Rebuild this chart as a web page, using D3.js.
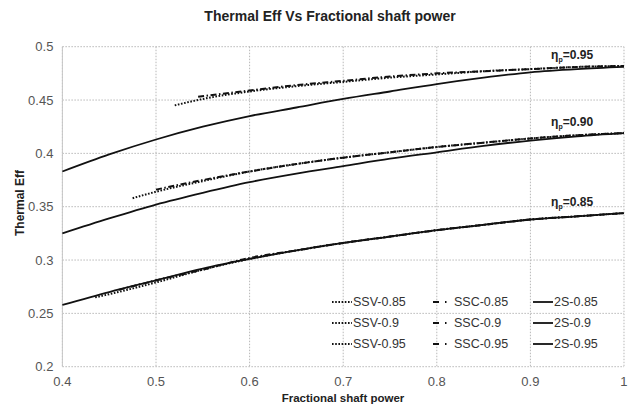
<!DOCTYPE html>
<html>
<head>
<meta charset="utf-8">
<script src="https://cdn.jsdelivr.net/npm/d3@7"></script>
<style>
  body { margin: 0; background: #fff; }
  svg { font-family: "Liberation Sans", Arial, sans-serif; }
  .grid line { stroke: #b8b8b8; stroke-width: 1; stroke-dasharray: 1.5,1.5; }
  .tick-label { font-size: 13px; fill: #555; }
  .series { fill: none; stroke: #111; }
</style>
</head>
<body>
<svg id="chart" width="635" height="407"></svg>
<script>
// Tick values
var xTicks = [0.4, 0.5, 0.6, 0.7, 0.8, 0.9, 1];
var yTicks = [0.2, 0.25, 0.3, 0.35, 0.4, 0.45, 0.5];

// Two-stage (2S) curves
var x2S = [0.4, 0.45, 0.5, 0.55, 0.6, 0.65, 0.7, 0.75, 0.8, 0.85, 0.9, 0.95, 1.0];
var y2S_085 = [0.258, 0.270, 0.281, 0.292, 0.301, 0.309, 0.316, 0.322, 0.328, 0.333, 0.338, 0.341, 0.344];
var y2S_090 = [0.325, 0.339, 0.352, 0.363, 0.373, 0.381, 0.388, 0.395, 0.401, 0.407, 0.412, 0.416, 0.419];
var y2S_095 = [0.383, 0.399, 0.413, 0.425, 0.435, 0.443, 0.451, 0.458, 0.465, 0.471, 0.476, 0.479, 0.481];

// SSV curves
var xSSV_085 = [0.435, 0.45, 0.5, 0.55, 0.6, 0.65, 0.7, 0.75, 0.8, 0.85, 0.9, 0.95, 1.0];
var ySSV_085 = [0.265, 0.268, 0.279, 0.291, 0.301, 0.309, 0.316, 0.322, 0.328, 0.333, 0.338, 0.341, 0.344];
var xSSV_090 = [0.475, 0.5, 0.55, 0.6, 0.65, 0.7, 0.75, 0.8, 0.85, 0.9, 0.95, 1.0];
var ySSV_090 = [0.358, 0.364, 0.374, 0.383, 0.390, 0.396, 0.401, 0.406, 0.410, 0.414, 0.417, 0.419];
var xSSV_095 = [0.52, 0.55, 0.6, 0.65, 0.7, 0.75, 0.8, 0.85, 0.9, 0.95, 1.0];
var ySSV_095 = [0.445, 0.451, 0.458, 0.463, 0.467, 0.471, 0.474, 0.477, 0.479, 0.481, 0.482];

// SSC curves
var xSSC_085 = [0.46, 0.5, 0.55, 0.6, 0.65, 0.7, 0.75, 0.8, 0.85, 0.9, 0.95, 1.0];
var ySSC_085 = [0.272, 0.281, 0.291, 0.302, 0.309, 0.316, 0.322, 0.328, 0.333, 0.338, 0.341, 0.344];
var xSSC_090 = [0.5, 0.55, 0.6, 0.65, 0.7, 0.75, 0.8, 0.85, 0.9, 0.95, 1.0];
var ySSC_090 = [0.366, 0.375, 0.383, 0.390, 0.396, 0.401, 0.406, 0.410, 0.414, 0.417, 0.419];
var xSSC_095 = [0.545, 0.6, 0.65, 0.7, 0.75, 0.8, 0.85, 0.9, 0.95, 1.0];
var ySSC_095 = [0.453, 0.459, 0.464, 0.468, 0.472, 0.475, 0.477, 0.479, 0.481, 0.482];

// Curve labels (eta_p)
var etaLabels = [{ v: "0.95", y: 0.4885 }, { v: "0.90", y: 0.426 }, { v: "0.85", y: 0.351 }];

var dash = { SSV: "1.6,1.6", SSC: "6,2.5,1.5,2.5", "2S": null };
var widths = { SSV: 2, SSC: 2, "2S": 1.8 };

var series = [
    { name: "SSV-0.85", kind: "SSV", xs: xSSV_085, ys: ySSV_085 },
    { name: "SSC-0.85", kind: "SSC", xs: xSSC_085, ys: ySSC_085 },
    { name: "2S-0.85", kind: "2S", xs: x2S, ys: y2S_085 },
    { name: "SSV-0.9", kind: "SSV", xs: xSSV_090, ys: ySSV_090 },
    { name: "SSC-0.9", kind: "SSC", xs: xSSC_090, ys: ySSC_090 },
    { name: "2S-0.9", kind: "2S", xs: x2S, ys: y2S_090 },
    { name: "SSV-0.95", kind: "SSV", xs: xSSV_095, ys: ySSV_095 },
    { name: "SSC-0.95", kind: "SSC", xs: xSSC_095, ys: ySSC_095 },
    { name: "2S-0.95", kind: "2S", xs: x2S, ys: y2S_095 }
];

var margin = { top: 46.7, right: 11, bottom: 40.3, left: 62.4 },
    width = 635 - margin.left - margin.right,
    height = 407 - margin.top - margin.bottom;

var svg = d3.select("#chart");
var g = svg.append("g")
    .attr("transform", "translate(" + margin.left + "," + margin.top + ")");

var x = d3.scaleLinear().domain([0.4, 1]).range([0, width]);
var y = d3.scaleLinear().domain([0.2, 0.5]).range([height, 0]);

// Grid lines
var grid = g.append("g").attr("class", "grid");
grid.selectAll(".gx").data(xTicks).enter().append("line")
    .attr("x1", d => x(d)).attr("x2", d => x(d))
    .attr("y1", 0).attr("y2", height);
grid.selectAll(".gy").data(yTicks).enter().append("line")
    .attr("x1", 0).attr("x2", width)
    .attr("y1", d => y(d)).attr("y2", d => y(d));

// Left axis line (solid light gray)
g.append("line")
    .attr("x1", 0).attr("x2", 0).attr("y1", 0).attr("y2", height)
    .attr("stroke", "#c8c8c8");

// Tick labels
g.selectAll(".ylab").data(yTicks).enter().append("text")
    .attr("class", "tick-label")
    .attr("x", -9)
    .attr("y", d => y(d))
    .attr("dy", "0.35em")
    .attr("text-anchor", "end")
    .text(d => d3.format("")(d));

g.selectAll(".xlab").data(xTicks).enter().append("text")
    .attr("class", "tick-label")
    .attr("x", d => x(d))
    .attr("y", height + 19)
    .attr("text-anchor", "middle")
    .text(d => d3.format("")(d));

// Lines
var line = d3.line()
    .x(d => x(d[0]))
    .y(d => y(d[1]))
    .curve(d3.curveMonotoneX);

g.selectAll(".series").data(series).enter().append("path")
    .attr("class", "series")
    .attr("d", s => line(s.xs.map((v, i) => [v, s.ys[i]])))
    .attr("stroke-width", s => widths[s.kind])
    .attr("stroke-dasharray", s => dash[s.kind]);

// eta labels
var eta = g.selectAll(".eta").data(etaLabels).enter().append("text")
    .attr("x", x(0.967))
    .attr("y", d => y(d.y))
    .attr("text-anchor", "end")
    .style("font-size", "12px")
    .style("font-weight", "bold")
    .attr("fill", "#222");
eta.append("tspan").text("\u03b7");
eta.append("tspan").attr("dy", 3).style("font-size", "7px").text("p");
eta.append("tspan").attr("dy", -3).text(d => "=" + d.v);

// Legend
var legCols = [352, 433, 553];
var legRows = [302, 323, 344];
var legend = svg.selectAll(".legend").data(series).enter().append("g")
    .attr("class", "legend")
    .attr("transform", (d, i) => "translate(" + legCols[i % 3] + "," + legRows[Math.floor(i / 3)] + ")");

legend.append("line")
    .attr("x1", d => d.kind === "SSC" ? 0 : -20)
    .attr("x2", d => d.kind === "SSC" ? 15 : 0)
    .attr("y1", 0).attr("y2", 0)
    .attr("stroke", "#111")
    .attr("stroke-width", d => widths[d.kind])
    .attr("stroke-dasharray", d => d.kind === "SSC" ? "6,6,1.5,10" : dash[d.kind]);

legend.append("text")
    .attr("x", d => d.kind === "SSC" ? 21 : 1)
    .attr("y", 0)
    .attr("dy", "0.35em")
    .style("font-size", "12.5px")
    .attr("fill", "#333")
    .text(d => d.name);

// Titles
svg.append("text")
    .attr("x", 330)
    .attr("y", 21)
    .attr("text-anchor", "middle")
    .style("font-size", "14px")
    .style("font-weight", "bold")
    .attr("fill", "#222")
    .text("Thermal Eff Vs Fractional shaft power");

svg.append("text")
    .attr("x", 343)
    .attr("y", 402)
    .attr("text-anchor", "middle")
    .style("font-size", "11.5px")
    .style("font-weight", "bold")
    .attr("fill", "#222")
    .text("Fractional shaft power");

svg.append("text")
    .attr("transform", "translate(24,203) rotate(-90)")
    .attr("text-anchor", "middle")
    .style("font-size", "12px")
    .style("font-weight", "bold")
    .attr("fill", "#222")
    .text("Thermal Eff");
</script>
</body>
</html>
